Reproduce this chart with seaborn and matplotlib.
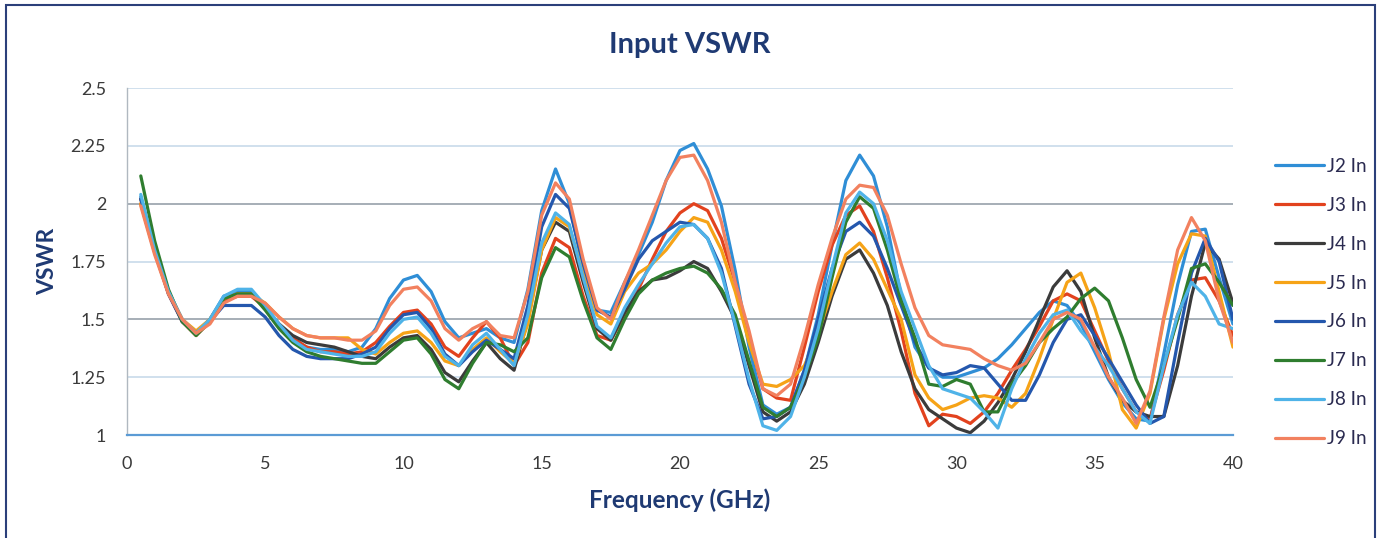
import numpy as np
import pandas as pd
import seaborn as sns
import matplotlib.pyplot as plt
from matplotlib.patches import Rectangle

# frequency grid (GHz), 0.5 GHz step
freq = list(np.arange(0.5, 40.01, 0.5))

j2 = [2.03, 1.80, 1.62, 1.50, 1.44, 1.50, 1.60, 1.62, 1.62, 1.55, 1.47, 1.41, 1.38, 1.37, 1.37, 1.36, 1.38,
      1.46, 1.59, 1.67, 1.69, 1.62, 1.49, 1.42, 1.44, 1.46, 1.42, 1.40,
      1.63, 1.97, 2.15, 2.00, 1.72, 1.54, 1.53,
      1.66, 1.78, 1.92, 2.10, 2.23, 2.26, 2.15, 1.99, 1.71,
      1.38, 1.13, 1.09, 1.12, 1.28, 1.52, 1.82, 2.10, 2.21, 2.12, 1.90, 1.60,
      1.38, 1.29, 1.25, 1.25, 1.27, 1.29, 1.33, 1.39, 1.46, 1.53,
      1.58, 1.56, 1.48, 1.36, 1.24, 1.14, 1.07, 1.06, 1.35, 1.65, 1.88, 1.89, 1.68, 1.48]
j3 = [2.00, 1.79, 1.61, 1.49, 1.43, 1.49, 1.58, 1.60, 1.60, 1.55, 1.48, 1.42, 1.38, 1.36, 1.36, 1.35, 1.36,
      1.40, 1.47, 1.53, 1.54, 1.48, 1.38, 1.34, 1.42, 1.49, 1.42, 1.30,
      1.40, 1.70, 1.85, 1.81, 1.60, 1.43, 1.41,
      1.52, 1.63, 1.76, 1.88, 1.96, 2.00, 1.97, 1.85, 1.66,
      1.42, 1.20, 1.16, 1.15, 1.38, 1.62, 1.82, 1.95, 1.99, 1.88, 1.68, 1.45,
      1.18, 1.04, 1.09, 1.08, 1.05, 1.10, 1.18, 1.28, 1.37, 1.47,
      1.58, 1.61, 1.58, 1.45, 1.32, 1.20, 1.10, 1.07, 1.28, 1.52, 1.67, 1.68, 1.58, 1.43]
j4 = [2.02, 1.80, 1.62, 1.49, 1.44, 1.50, 1.59, 1.61, 1.61, 1.55, 1.48, 1.43, 1.40, 1.39, 1.38, 1.36, 1.34,
      1.33, 1.38, 1.42, 1.43, 1.37, 1.27, 1.23, 1.32, 1.40, 1.33, 1.28,
      1.50, 1.80, 1.92, 1.88, 1.66, 1.46, 1.41,
      1.53, 1.62, 1.67, 1.68, 1.71, 1.75, 1.72, 1.62, 1.50,
      1.30, 1.10, 1.06, 1.10, 1.22, 1.40, 1.60, 1.76, 1.80, 1.70, 1.56, 1.36,
      1.20, 1.11, 1.07, 1.03, 1.01, 1.06, 1.14, 1.24, 1.36, 1.50,
      1.64, 1.71, 1.62, 1.42, 1.25, 1.15, 1.10, 1.08, 1.08, 1.30, 1.60, 1.83, 1.76, 1.57]
j5 = [2.00, 1.79, 1.62, 1.50, 1.45, 1.50, 1.59, 1.61, 1.61, 1.57, 1.51, 1.46, 1.43, 1.42, 1.42, 1.42, 1.37,
      1.35, 1.40, 1.44, 1.45, 1.40, 1.32, 1.30, 1.37, 1.42, 1.36, 1.31,
      1.48, 1.80, 1.94, 1.90, 1.70, 1.52, 1.48,
      1.62, 1.70, 1.74, 1.80, 1.88, 1.94, 1.92, 1.80, 1.62,
      1.40, 1.22, 1.21, 1.24, 1.30, 1.44, 1.62, 1.78, 1.83, 1.76, 1.63, 1.50,
      1.26, 1.16, 1.11, 1.13, 1.16, 1.17, 1.16, 1.12, 1.18, 1.33,
      1.50, 1.66, 1.70, 1.55, 1.36, 1.11, 1.03, 1.18, 1.50, 1.74, 1.87, 1.86, 1.62, 1.38]
j6 = [2.02, 1.80, 1.61, 1.49, 1.44, 1.49, 1.56, 1.56, 1.56, 1.51, 1.43, 1.37, 1.34, 1.33, 1.33, 1.33, 1.35,
      1.38, 1.46, 1.52, 1.53, 1.46, 1.35, 1.30, 1.36, 1.41, 1.37, 1.33,
      1.56, 1.90, 2.04, 1.98, 1.74, 1.54, 1.51,
      1.63, 1.76, 1.84, 1.88, 1.92, 1.91, 1.85, 1.72, 1.47,
      1.22, 1.07, 1.08, 1.12, 1.28, 1.50, 1.72, 1.88, 1.92, 1.86, 1.72, 1.56,
      1.40, 1.29, 1.26, 1.27, 1.30, 1.29, 1.22, 1.15, 1.15, 1.26,
      1.40, 1.50, 1.52, 1.43, 1.33, 1.23, 1.13, 1.05, 1.08, 1.40, 1.70, 1.85, 1.75, 1.50]
j7 = [2.12, 1.84, 1.63, 1.49, 1.43, 1.49, 1.59, 1.61, 1.61, 1.54, 1.46, 1.40, 1.36, 1.34, 1.33, 1.32, 1.31,
      1.31, 1.36, 1.41, 1.42, 1.35, 1.24, 1.20, 1.31, 1.40, 1.39, 1.36,
      1.42, 1.68, 1.81, 1.77, 1.58, 1.42, 1.37,
      1.50, 1.61, 1.67, 1.70, 1.72, 1.73, 1.70, 1.63, 1.52,
      1.32, 1.12, 1.08, 1.12, 1.25, 1.42, 1.68, 1.92, 2.03, 1.98, 1.80, 1.58,
      1.42, 1.22, 1.21, 1.24, 1.22, 1.10, 1.10, 1.22, 1.30, 1.40,
      1.46, 1.51, 1.59, 1.635, 1.58, 1.42, 1.24, 1.12, 1.30, 1.50, 1.72, 1.74, 1.66, 1.56]
j8 = [2.04, 1.80, 1.62, 1.50, 1.44, 1.50, 1.60, 1.63, 1.63, 1.56, 1.48, 1.41, 1.37, 1.36, 1.35, 1.34, 1.34,
      1.36, 1.44, 1.50, 1.51, 1.44, 1.34, 1.30, 1.39, 1.44, 1.37, 1.30,
      1.52, 1.83, 1.96, 1.91, 1.68, 1.47, 1.42,
      1.55, 1.65, 1.74, 1.83, 1.90, 1.91, 1.85, 1.70, 1.48,
      1.24, 1.04, 1.02, 1.08, 1.25, 1.46, 1.72, 1.96, 2.05, 2.00, 1.84, 1.62,
      1.46, 1.30, 1.20, 1.18, 1.16, 1.10, 1.03, 1.20, 1.33, 1.44,
      1.52, 1.54, 1.45, 1.38, 1.30, 1.20, 1.10, 1.05, 1.30, 1.52, 1.66, 1.60, 1.48, 1.46]
j9 = [1.99, 1.78, 1.61, 1.50, 1.44, 1.48, 1.57, 1.60, 1.60, 1.57, 1.51, 1.46, 1.43, 1.42, 1.42, 1.41, 1.41,
      1.45, 1.56, 1.63, 1.64, 1.58, 1.46, 1.41, 1.46, 1.49, 1.43, 1.42,
      1.62, 1.95, 2.09, 2.02, 1.76, 1.55, 1.50,
      1.66, 1.80, 1.95, 2.10, 2.20, 2.21, 2.10, 1.92, 1.66,
      1.45, 1.20, 1.17, 1.22, 1.42, 1.65, 1.85, 2.02, 2.08, 2.07, 1.95, 1.74,
      1.55, 1.43, 1.39, 1.38, 1.37, 1.33, 1.30, 1.28, 1.31, 1.40,
      1.50, 1.53, 1.50, 1.38, 1.25, 1.16, 1.05, 1.19, 1.51, 1.80, 1.94, 1.84, 1.58, 1.40]

labels = ['J2 In', 'J3 In', 'J4 In', 'J5 In', 'J6 In', 'J7 In', 'J8 In', 'J9 In']
series = [j2, j3, j4, j5, j6, j7, j8, j9]
colors = ['#2f8ed6', '#e2421e', '#3b3b3b', '#f6a317', '#2457ad', '#2f7d2f', '#4fb3e8', '#f2815f']

df = pd.concat([pd.DataFrame({'Frequency': freq, 'VSWR': s, 'Port': lab})
                for lab, s in zip(labels, series)], ignore_index=True)

sns.set_style('white')
plt.rcParams['font.family'] = ['Lato', 'DejaVu Sans']

fig = plt.figure(figsize=(13.83, 5.38), dpi=100)
ax = fig.add_axes([0.0918, 0.1914, 0.7997, 0.645])

sns.lineplot(data=df, x='Frequency', y='VSWR', hue='Port', palette=dict(zip(labels, colors)),
             linewidth=2.3, estimator=None, sort=False, ax=ax)

ax.set_xlim(0, 40)
ax.set_ylim(1, 2.5)
ax.set_xticks([0, 5, 10, 15, 20, 25, 30, 35, 40])
ax.set_yticks([1, 1.25, 1.5, 1.75, 2, 2.25, 2.5])
ax.set_yticklabels(['1', '1.25', '1.5', '1.75', '2', '2.25', '2.5'])
ax.tick_params(axis='both', length=0, labelsize=13, colors='#3a3a3a')
ax.tick_params(axis='x', pad=15)
ax.tick_params(axis='y', pad=15)

ax.grid(axis='y', color='#c3d7e8', linewidth=1.1)
for gl, t in zip(ax.get_ygridlines(), ax.get_yticks()):
    if t in (1.5, 2.0):
        gl.set_color('#8e99a3')
for side in ['top', 'right']:
    ax.spines[side].set_visible(False)
ax.spines['left'].set_color('#b0b8c0')
ax.spines['left'].set_linewidth(1.0)
ax.spines['bottom'].set_color('#5b9bd5')
ax.spines['bottom'].set_linewidth(1.6)

navy = '#1f3a73'
fig.text(0.499, 0.916, 'Input VSWR', ha='center', va='center', fontsize=21,
         fontweight='bold', color=navy)
ax.set_xlabel('Frequency (GHz)', fontsize=17.5, fontweight='bold', color=navy)
ax.xaxis.set_label_coords(0.5, -0.155)
ax.set_ylabel('VSWR', fontsize=16.5, fontweight='bold', color=navy)
ax.yaxis.set_label_coords(-0.062, 0.5)

ax.legend(loc='center left', bbox_to_anchor=(1.03, 0.382), frameon=False, fontsize=13.5,
          handlelength=2.6, handletextpad=0.15, labelspacing=1.17, borderpad=0,
          labelcolor='#2a2a50')

# outer chart frame
fig.patches.append(Rectangle((0.004, -0.05), 0.99, 1.04, transform=fig.transFigure,
                             fill=False, edgecolor='#2b3f7a', linewidth=1.5))

fig.savefig('out.png', dpi=100)
